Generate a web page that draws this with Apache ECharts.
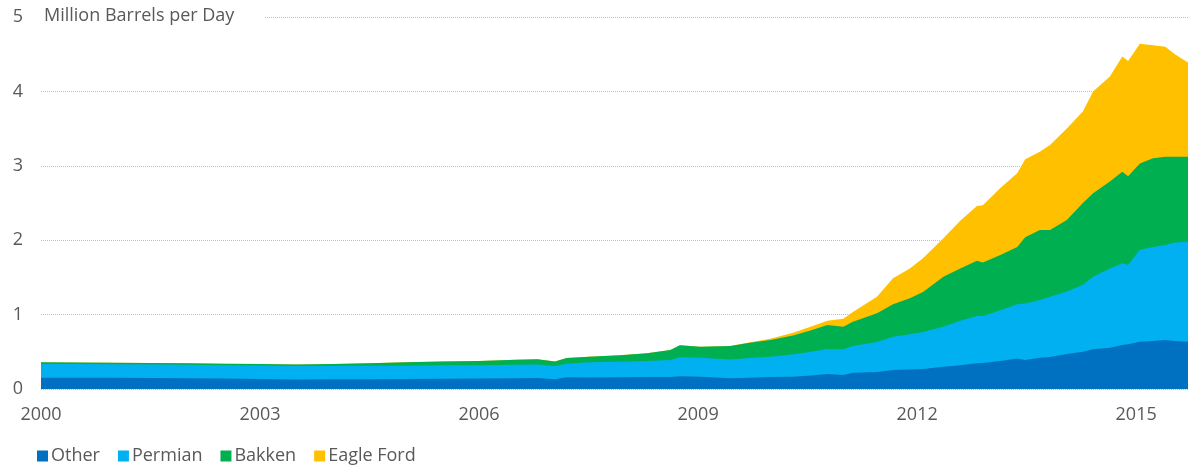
<!DOCTYPE html>
<html>
<head>
<meta charset="utf-8">
<script src="https://cdn.jsdelivr.net/npm/echarts@6/dist/echarts.min.js"></script>
<style>
  html, body { margin: 0; padding: 0; background: #fff; }
  #chart { width: 1188px; height: 470px; }
</style>
</head>
<body>
<div id="chart"></div>
<script>
// years after 2000 (decimal)
const yearOffsets = [0, 0.5, 1, 1.5, 2, 2.5, 3, 3.5, 4, 4.5, 5, 5.5, 6, 6.5, 6.8, 7.04, 7.2, 7.5, 7.93, 8.3,
  8.62, 8.75, 9.03, 9.44, 9.71, 9.99, 10.3, 10.55, 10.77, 10.99, 11.12, 11.45, 11.67, 11.9, 12.08, 12.36,
  12.59, 12.82, 12.9, 13.14, 13.37, 13.48, 13.68, 13.82, 14.05, 14.27, 14.41, 14.64, 14.81, 14.89, 15.05,
  15.23, 15.4, 15.53, 15.71];

const other = [0.152, 0.150, 0.150, 0.148, 0.145, 0.140, 0.135, 0.127, 0.130, 0.132, 0.134, 0.138, 0.140,
  0.145, 0.148, 0.130, 0.157, 0.154, 0.157, 0.160, 0.161, 0.170, 0.165, 0.143, 0.152, 0.161, 0.165, 0.180,
  0.200, 0.188, 0.220, 0.228, 0.255, 0.262, 0.269, 0.300, 0.320, 0.345, 0.350, 0.376, 0.410, 0.390, 0.420,
  0.430, 0.470, 0.500, 0.533, 0.555, 0.590, 0.600, 0.636, 0.645, 0.660, 0.645, 0.636];

const permian = [0.184, 0.185, 0.184, 0.182, 0.180, 0.180, 0.180, 0.183, 0.180, 0.180, 0.179, 0.180, 0.180,
  0.180, 0.180, 0.180, 0.183, 0.204, 0.210, 0.215, 0.229, 0.256, 0.255, 0.255, 0.265, 0.274, 0.301, 0.320,
  0.337, 0.345, 0.358, 0.404, 0.448, 0.473, 0.497, 0.537, 0.598, 0.635, 0.630, 0.684, 0.728, 0.760, 0.776,
  0.810, 0.840, 0.900, 0.977, 1.065, 1.100, 1.067, 1.234, 1.265, 1.275, 1.325, 1.344];

const bakken = [0.022, 0.020, 0.018, 0.020, 0.020, 0.020, 0.020, 0.018, 0.025, 0.033, 0.045, 0.050, 0.055,
  0.067, 0.072, 0.060, 0.077, 0.077, 0.086, 0.105, 0.134, 0.161, 0.149, 0.180, 0.205, 0.225, 0.254, 0.290,
  0.323, 0.304, 0.327, 0.385, 0.435, 0.485, 0.538, 0.673, 0.702, 0.745, 0.720, 0.740, 0.772, 0.890, 0.941,
  0.897, 0.960, 1.100, 1.120, 1.170, 1.230, 1.193, 1.160, 1.190, 1.185, 1.150, 1.140];

const eagleFord = [0, 0, 0, 0, 0, 0, 0, 0, 0, 0, 0, 0, 0, 0, 0, 0, 0, 0, 0, 0, 0, 0, 0, 0, 0.008, 0.015,
  0.037, 0.050, 0.058, 0.108, 0.130, 0.223, 0.350, 0.400, 0.453, 0.516, 0.640, 0.735, 0.770, 0.900, 0.990,
  1.047, 1.053, 1.143, 1.230, 1.230, 1.370, 1.410, 1.550, 1.550, 1.610, 1.520, 1.480, 1.380, 1.270];

const seriesNames = ['Other', 'Permian', 'Bakken', 'Eagle Ford'];
const seriesColors = ['#0070C0', '#00B0F0', '#00B050', '#FFC000'];
const seriesValues = [other, permian, bakken, eagleFord];

// running totals, so each layer sits on the ones below it
const cumulative = seriesValues.map((vals, i) =>
  vals.map((_, j) => seriesValues.slice(0, i + 1).reduce((s, arr) => s + arr[j], 0))
);

const textColor = '#595959';
const fontFamily = '"Open Sans", "Noto Sans", sans-serif';

const chart = echarts.init(document.getElementById('chart'));

// top layer drawn lowest, lower layers paint over it
const series = seriesNames.map((name, i) => ({
  name: name,
  type: 'line',
  symbol: 'none',
  z: 2 + (seriesNames.length - i),
  lineStyle: { width: 0 },
  itemStyle: { color: seriesColors[i] },
  areaStyle: { color: seriesColors[i], opacity: 1 },
  data: yearOffsets.map((t, j) => [t, +cumulative[i][j].toFixed(3)])
}));

const option = {
  animation: false,
  backgroundColor: '#fff',
  textStyle: { fontFamily: fontFamily },
  title: {
    text: 'Million Barrels per Day',
    left: 41,
    top: 5,
    padding: [2, 30, 2, 3],
    backgroundColor: '#fff',
    z: 10,
    textStyle: { color: textColor, fontSize: 18, fontWeight: 'normal', fontFamily: fontFamily }
  },
  legend: {
    left: 32,
    bottom: 0,
    itemWidth: 11,
    itemHeight: 11,
    itemGap: 18,
    icon: 'rect',
    textStyle: { color: textColor, fontSize: 18, padding: [0, 0, 0, -2] },
    data: seriesNames
  },
  grid: { left: 41, right: 0, top: 17, bottom: 81 },
  xAxis: {
    type: 'value',
    min: 0,
    max: 15.71,
    interval: 3,
    axisLine: { show: false },
    axisTick: { show: false },
    splitLine: { show: false },
    axisLabel: {
      color: textColor,
      fontSize: 18,
      margin: 17,
      showMaxLabel: false,
      formatter: v => String(2000 + v)
    }
  },
  yAxis: {
    type: 'value',
    min: 0,
    max: 5,
    interval: 1,
    axisLine: { show: false },
    axisTick: { show: false },
    axisLabel: { color: textColor, fontSize: 18, margin: 18 },
    splitLine: { lineStyle: { color: '#BFBFBF', type: [1, 1], width: 1 } }
  },
  series: series
};

chart.setOption(option);
</script>
</body>
</html>
